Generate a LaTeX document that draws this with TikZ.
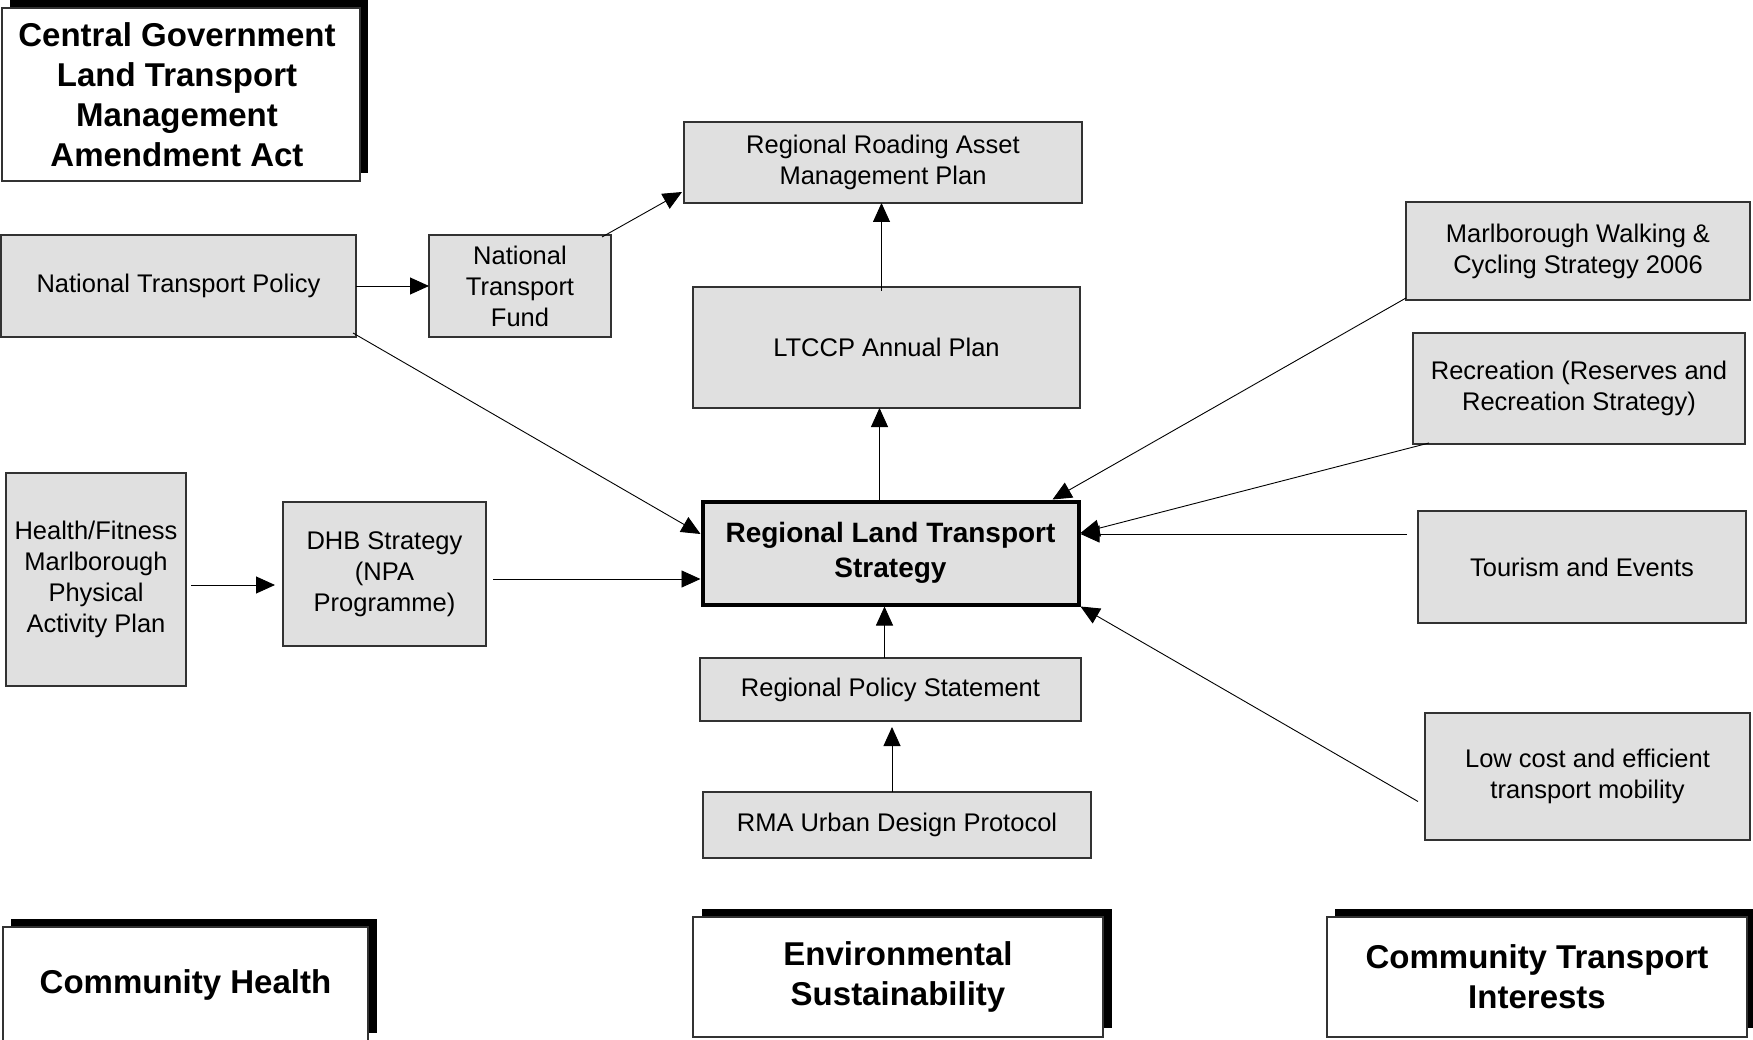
\documentclass[tikz,border=0pt]{standalone}
\usepackage{fontspec}
\setmainfont{Liberation Sans}
\usetikzlibrary{arrows.meta,calc}
\definecolor{boxfill}{RGB}{224,224,224}
\definecolor{boxline}{RGB}{50,50,50}
\tikzset{
  graybox/.style={draw=boxline, line width=1.2pt, fill=boxfill, align=center, inner sep=0pt, outer sep=0pt, font=\fontsize{25.5}{31}\selectfont},
  mainbox/.style={draw=black, line width=4pt, fill=boxfill, align=center, inner sep=0pt, outer sep=2pt, font=\fontsize{28}{35}\selectfont\bfseries},
  titlebox/.style={draw=boxline, line width=1.2pt, fill=white, align=center, inner sep=0pt, outer sep=0pt, font=\fontsize{33}{40}\selectfont\bfseries},
  shadowbox/.style={fill=black, draw=none},
  arr/.style={-{Triangle[length=19pt,width=17pt]}, line width=0.9pt, draw=black},
}
\begin{document}
\begin{tikzpicture}[x=1pt,y=-1pt]
\useasboundingbox[fill=white] (0,0) rectangle (1753,1040);

% shadows of title boxes
\fill[shadowbox] (10,0) rectangle (368,173);
\fill[shadowbox] (11,919) rectangle (377,1033);
\fill[shadowbox] (702,909) rectangle (1112,1028);
\fill[shadowbox] (1335,909) rectangle (1753,1028);

% title boxes
\node[titlebox, minimum width=358pt, minimum height=173pt] (cg) at (181,94.5)
  {\hspace*{-8pt}Central Government\\\hspace*{-8pt}Land Transport\\\hspace*{-8pt}Management\\\hspace*{-8pt}Amendment Act};
\node[titlebox, minimum width=365pt, minimum height=115pt] (ch) at (185.5,984.5)
  {Community Health};
\node[titlebox, minimum width=410pt, minimum height=120pt] (es) at (898,977)
  {Environmental\\Sustainability};
\node[titlebox, minimum width=420pt, minimum height=120pt] (cti) at (1537,977)
  {Community Transport\\Interests};

% grey boxes
\node[graybox, minimum width=398pt, minimum height=81pt] (rram) at (883,162.5)
  {Regional Roading Asset\\Management Plan};
\node[graybox, minimum width=355pt, minimum height=102pt] (ntp) at (178.5,286)
  {\raisebox{-4pt}{National Transport Policy}};
\node[graybox, minimum width=182pt, minimum height=102pt] (ntf) at (520,286)
  {National\\Transport\\Fund};
\node[graybox, minimum width=387pt, minimum height=121pt] (ltccp) at (886.5,347.5)
  {LTCCP Annual Plan};
\node[graybox, minimum width=344pt, minimum height=98pt] (mwc) at (1578,251)
  {Marlborough Walking \&\\Cycling Strategy 2006};
\node[graybox, minimum width=332pt, minimum height=111pt] (rec) at (1579,388.5)
  {Recreation (Reserves and\\Recreation Strategy)};
\node[graybox, minimum width=180pt, minimum height=213pt] (hf) at (96,579.5)
  {Health/Fitness\\Marlborough\\Physical\\Activity Plan};
\node[graybox, minimum width=203pt, minimum height=144pt] (dhb) at (384.5,574)
  {DHB Strategy\\(NPA\\Programme)};
\node[mainbox, minimum width=376pt, minimum height=103pt] (rlts) at (890.5,553)
  {Regional Land Transport\\Strategy};
\node[graybox, minimum width=328pt, minimum height=112pt] (te) at (1582,567)
  {Tourism and Events};
\node[graybox, minimum width=381pt, minimum height=63pt] (rps) at (890.5,689.5)
  {Regional Policy Statement};
\node[graybox, minimum width=388pt, minimum height=66pt] (rma) at (897,825)
  {RMA Urban Design Protocol};
\node[graybox, minimum width=325pt, minimum height=127pt] (lc) at (1587.5,776.5)
  {Low cost and efficient\\transport mobility};

% connectors
\draw[arr] (ntp.east) -- (ntf.west);
\draw[arr] ($(ntf.north east)+(-9,2)$) -- ($(rram.south west)+(-2,-11)$);
\coordinate (l1) at ($(ltccp.north)+(-5,4)$);
\draw[arr] (l1) -- (l1 |- rram.south);
\coordinate (r0) at ($(rlts.north)+(-11,0)$);
\draw[arr] (r0) -- (r0 |- ltccp.south);
\draw[arr] ($(ntp.south east)+(-3,-4)$) -- ($(rlts.west)+(0,-19)$);
\coordinate (d1) at ($(dhb.east)+(7,5)$);
\draw[arr] (d1) -- (d1 -| rlts.west);
\coordinate (h1) at ($(hf.east)+(5,5.5)$);
\draw[arr] (h1) -- ($(h1 -| dhb.west)+(-8,0)$);
\draw[arr] ($(mwc.south west)+(0,-2)$) -- ($(rlts.north east)+(-28,0)$);
\draw[arr] ($(rec.south west)+(16,-1)$) -- ($(rlts.east)+(0,-20)$);
\coordinate (t1) at ($(te.west)+(-11,-33)$);
\draw[arr] (t1) -- (t1 -| rlts.east);
\draw[arr] ($(lc.west)+(-7,25)$) -- (rlts.south east);
\coordinate (p1) at ($(rps.north)+(-6,0)$);
\draw[arr] (p1) -- (p1 |- rlts.south);
\coordinate (m1) at ($(rma.north)+(-5,0)$);
\draw[arr] (m1) -- ($(m1 |- rps.south)+(0,6)$);
\end{tikzpicture}
\end{document}
